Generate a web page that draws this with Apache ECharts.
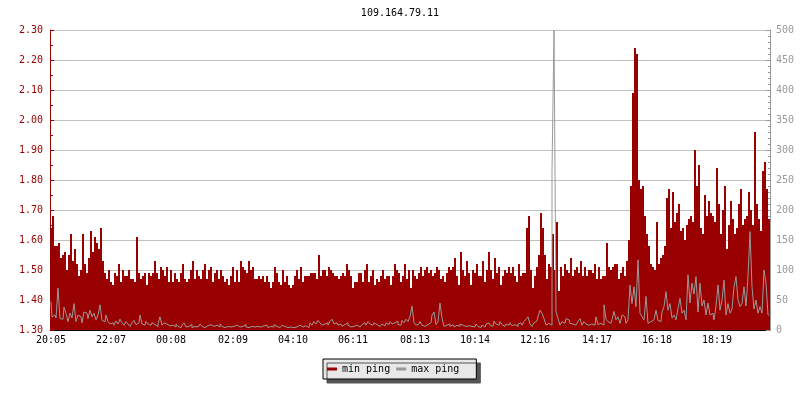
<!DOCTYPE html>
<html><head><meta charset="utf-8">
<script src="https://cdn.jsdelivr.net/npm/echarts@6/dist/echarts.min.js"></script>
<style>html,body{margin:0;padding:0;background:#fff}#c{width:800px;height:400px}</style>
</head><body><div id="c"></div><script>
const chartTitle = '109.164.79.11';
const seriesNames = ['min ping', 'max ping'];
const tickLabels = ['20:05','22:07','00:08','02:09','04:10','06:11','08:13','10:14','12:16','14:17','16:18','18:19'];
const pointsPerTick = 30.33;
const leftTicks = {min: 1.3, max: 2.3, step: 0.1};
const rightTicks = {min: 0, max: 500, step: 50};

// min ping (ms, left axis), one value per sample
const minPing = [
1.64,1.68,1.58,1.58,1.59,1.54,1.55,1.56,1.50,1.55,1.62,1.53,1.57,1.52,1.48,1.50,1.62,1.52,1.49,1.54,1.63,1.56,1.61,1.59,1.57,1.64,1.53,1.49,1.47,1.50,
1.46,1.45,1.49,1.48,1.52,1.46,1.50,1.48,1.48,1.50,1.47,1.47,1.46,1.61,1.49,1.47,1.48,1.49,1.45,1.49,1.48,1.49,1.53,1.49,1.47,1.51,1.50,1.48,1.51,1.46,
1.50,1.46,1.49,1.47,1.46,1.49,1.52,1.47,1.46,1.47,1.50,1.53,1.47,1.50,1.48,1.47,1.50,1.52,1.47,1.50,1.51,1.46,1.49,1.50,1.47,1.50,1.48,1.46,1.47,1.45,
1.48,1.51,1.46,1.50,1.46,1.53,1.51,1.50,1.49,1.53,1.50,1.51,1.47,1.47,1.48,1.47,1.48,1.46,1.48,1.46,1.44,1.46,1.51,1.49,1.46,1.45,1.50,1.46,1.48,1.45,
1.44,1.45,1.48,1.50,1.47,1.51,1.46,1.48,1.48,1.48,1.49,1.49,1.49,1.47,1.55,1.48,1.50,1.50,1.48,1.51,1.50,1.49,1.48,1.48,1.47,1.48,1.49,1.48,1.52,1.50,
1.48,1.44,1.46,1.46,1.49,1.49,1.46,1.50,1.52,1.46,1.48,1.50,1.45,1.47,1.46,1.48,1.50,1.47,1.48,1.48,1.45,1.48,1.52,1.50,1.49,1.46,1.48,1.52,1.47,1.50,
1.44,1.50,1.48,1.47,1.49,1.51,1.48,1.50,1.51,1.49,1.50,1.48,1.49,1.51,1.50,1.47,1.48,1.46,1.49,1.51,1.50,1.51,1.54,1.48,1.45,1.56,1.50,1.48,1.53,1.49,
1.45,1.50,1.49,1.52,1.48,1.48,1.53,1.46,1.50,1.56,1.50,1.47,1.54,1.49,1.51,1.45,1.48,1.50,1.49,1.51,1.49,1.51,1.48,1.46,1.52,1.48,1.49,1.49,1.64,1.68,
1.50,1.44,1.48,1.51,1.55,1.69,1.64,1.55,1.47,1.52,1.51,1.62,1.50,1.66,1.43,1.51,1.48,1.52,1.50,1.49,1.54,1.48,1.50,1.51,1.49,1.53,1.48,1.51,1.48,1.50,
1.50,1.49,1.52,1.47,1.51,1.47,1.48,1.48,1.59,1.51,1.50,1.51,1.52,1.52,1.47,1.49,1.51,1.48,1.53,1.60,1.78,2.09,2.24,2.22,1.80,1.77,1.78,1.68,1.62,1.58,
1.52,1.51,1.50,1.66,1.52,1.54,1.55,1.58,1.74,1.77,1.64,1.76,1.66,1.69,1.72,1.63,1.64,1.60,1.65,1.67,1.68,1.66,1.90,1.78,1.85,1.64,1.62,1.75,1.68,1.73,
1.69,1.68,1.66,1.84,1.72,1.62,1.70,1.78,1.57,1.65,1.73,1.67,1.62,1.64,1.72,1.77,1.65,1.67,1.68,1.76,1.70,1.65,1.96,1.72,1.67,1.63,1.83,1.86,1.77,1.67
];

// max ping (right axis), one value per sample
const maxPing = [
47,22,25,20,70,19,18,38,28,14,28,20,44,14,25,22,12,30,28,19,33,22,28,17,25,42,16,14,25,14,
10,12,8,15,10,18,12,8,14,10,6,12,16,9,12,25,10,8,14,10,8,12,9,6,10,22,8,12,10,7,
6,8,5,10,6,4,8,12,5,6,9,4,6,5,8,10,6,4,7,5,9,6,4,8,5,10,6,4,6,8,
5,6,4,8,5,4,6,9,5,4,6,8,5,6,4,5,7,5,8,4,6,5,9,6,4,5,8,6,4,5,
5,4,6,5,8,6,5,7,6,4,12,8,14,10,16,12,8,10,12,8,14,18,10,12,8,10,6,9,12,8,
5,6,4,8,5,6,9,12,8,14,10,8,12,9,6,8,10,7,12,9,14,10,12,15,9,8,16,12,18,14,
22,40,12,8,10,14,8,6,9,10,12,25,30,9,14,45,20,6,8,10,6,9,5,8,6,10,8,6,9,7,
6,8,5,10,6,4,8,5,10,12,8,6,15,10,8,14,9,6,10,8,12,7,9,6,10,12,8,14,18,22,
10,6,12,15,22,33,28,19,8,11,8,264,500,31,19,8,14,11,19,17,11,10,8,6,14,19,8,14,10,8,
10,12,8,22,9,11,8,42,18,14,11,17,31,17,22,11,25,22,11,17,75,44,72,39,117,28,22,17,56,11,
14,17,20,33,16,14,30,39,64,33,44,20,25,17,36,53,28,33,17,92,45,78,60,89,30,78,40,50,25,45,
25,28,17,40,75,33,50,83,25,44,28,35,72,89,50,39,44,72,40,89,164,72,35,50,28,39,28,100,78,25
];

const categories = minPing.map((_, i) => String(i));
const labelAt = {};
tickLabels.forEach((t, k) => { labelAt[Math.floor(k * pointsPerTick + 0.1)] = t; });
const showTick = (idx) => labelAt[idx] !== undefined;

const FONT = 'DejaVu Sans Mono';
const RED = '#990000';
const GREY = '#999999';

const chart = echarts.init(document.getElementById('c'), null, {renderer: 'canvas'});
chart.setOption({
  animation: false,
  backgroundColor: '#ffffff',
  title: {
    text: chartTitle, left: 'center', top: 3,
    textStyle: {fontFamily: FONT, fontSize: 10, fontWeight: 'normal', color: '#000'}
  },
  legend: {
    data: seriesNames, left: 323, top: 359, orient: 'horizontal',
    icon: 'rect', itemWidth: 10, itemHeight: 3, itemGap: 6,
    padding: [5, 17, 5, 4],
    backgroundColor: '#e8e8e8', borderColor: '#000', borderWidth: 1,
    shadowColor: '#555', shadowBlur: 0, shadowOffsetX: 4, shadowOffsetY: 4,
    textStyle: {fontFamily: FONT, fontSize: 10, color: '#000'}
  },
  grid: {left: 50, right: 30, top: 30, bottom: 70, containLabel: false},
  xAxis: {
    type: 'category', data: categories, boundaryGap: true,
    axisLine: {show: true, lineStyle: {color: '#000', width: 1}},
    axisTick: {show: true, inside: true, length: 3, alignWithLabel: true, interval: showTick, lineStyle: {color: '#000'}},
    axisLabel: {interval: showTick, formatter: (v, i) => labelAt[i] || '', color: '#000', fontFamily: FONT, fontSize: 10, margin: 5},
    splitLine: {show: false}
  },
  yAxis: [{
    type: 'value', min: leftTicks.min, max: leftTicks.max, interval: leftTicks.step, position: 'left',
    axisLine: {show: true, lineStyle: {color: RED, width: 1}},
    axisTick: {show: true, inside: true, length: 4, lineStyle: {color: RED}},
    minorTick: {show: true, splitNumber: 2, length: 3, lineStyle: {color: RED}},
    axisLabel: {color: RED, fontFamily: FONT, fontSize: 10, margin: 7, formatter: v => v.toFixed(2)},
    splitLine: {show: true, lineStyle: {color: '#c0c0c0', width: 1}}
  }, {
    type: 'value', min: rightTicks.min, max: rightTicks.max, interval: rightTicks.step, position: 'right',
    axisLine: {show: true, lineStyle: {color: GREY, width: 1}},
    axisTick: {show: true, inside: true, length: 4, lineStyle: {color: GREY}},
    minorTick: {show: true, splitNumber: 5, length: 2, lineStyle: {color: GREY}},
    axisLabel: {color: GREY, fontFamily: FONT, fontSize: 10, margin: 6},
    splitLine: {show: false}
  }],
  series: [{
    name: seriesNames[0], type: 'bar', data: minPing, yAxisIndex: 0,
    barCategoryGap: '0%', barGap: '0%', clip: true,
    itemStyle: {color: RED}
  }, {
    name: seriesNames[1], type: 'line', data: maxPing, yAxisIndex: 1,
    step: 'middle', showSymbol: false, symbol: 'none',
    lineStyle: {color: GREY, width: 1}, itemStyle: {color: GREY}
  }]
});
</script></body></html>
